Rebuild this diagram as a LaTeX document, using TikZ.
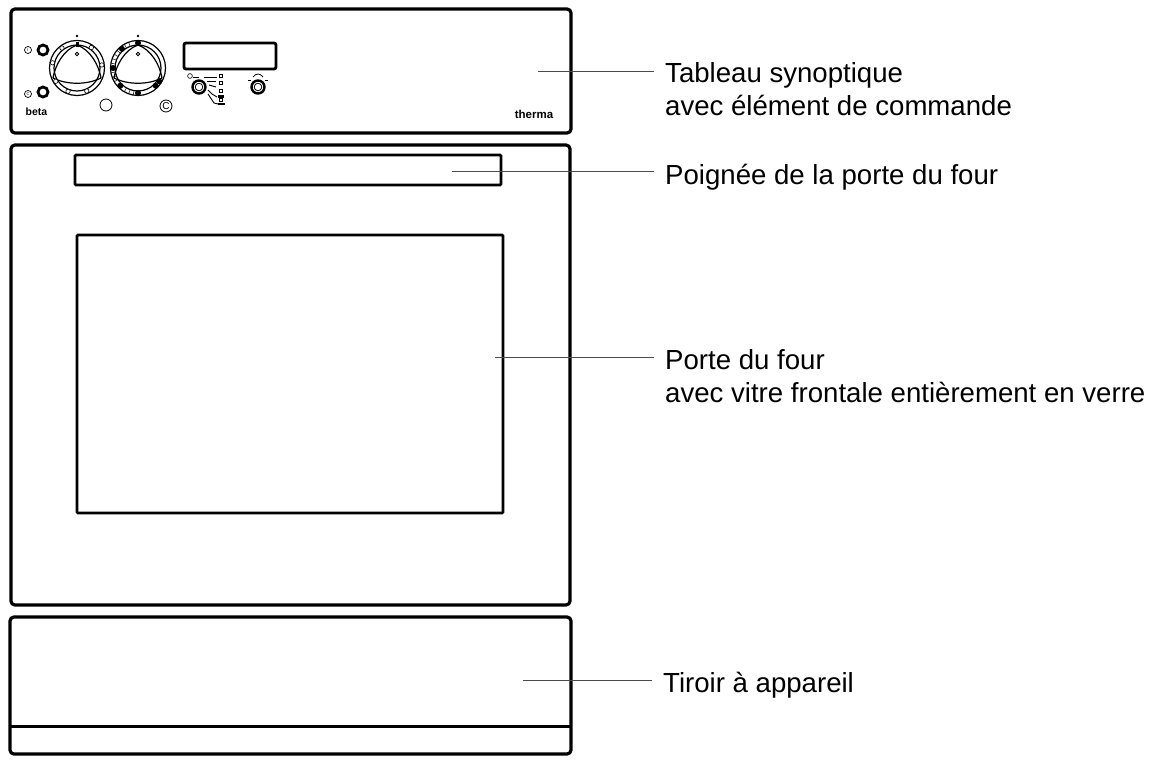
\documentclass[tikz,border=0pt]{standalone}
\usepackage{fontspec}
\setmainfont{Liberation Sans}
\usepackage{tikz}
\tikzset{
  frameline/.style={line width=3.2pt,rounded corners=4pt},
  knobline/.style={line width=1.2pt},
  leaderline/.style={line width=0.8pt,black!70},
  labeltext/.style={font=\fontsize{27.6}{33}\selectfont,align=left,inner xsep=11pt,inner ysep=0pt,anchor=base west},
  smalltext/.style={font=\fontsize{5}{5}\selectfont,inner sep=0pt},
}
\begin{document}
\begin{tikzpicture}[x=1pt,y=-1pt]
\useasboundingbox (0,0) rectangle (1159,762);
% frames
\draw[frameline] (11,9) rectangle (571,133);
\draw[frameline] (11,145) rectangle (570,605);
\draw[frameline] (10,617) rectangle (571,754);
\draw[line width=3pt] (10,726)--(571,726);
\draw[line width=2.8pt,rounded corners=1pt] (75,155) rectangle (501,185);
\draw[line width=2.8pt,rounded corners=1pt] (77,235) rectangle (503,513);
\draw[line width=2.8pt,rounded corners=2pt] (184,43) rectangle (276,69);
% left buttons
\draw[line width=2.8pt] (43,50) circle (5);
\draw[line width=2.8pt] (43,92) circle (5);
\draw[line width=0.7pt] (28,50) circle (3.5);
\draw[line width=0.7pt] (28,94) circle (3.5);
\node[smalltext,font=\fontsize{4}{4}\selectfont] (symbolone) at (28,50) {I};
\node[smalltext,font=\fontsize{4}{4}\selectfont] (symboltwo) at (28,94) {C};
\node[inner sep=0pt,font=\fontsize{10.5}{10.5}\selectfont\bfseries] (beta) at (36.5,112) {beta};
% knobs
\foreach \cx in {77,138} {
  \draw[knobline] (\cx,68) circle (27.5);
  \draw[knobline] (\cx,68) circle (23);
  \draw[knobline] (\cx,45) .. controls (\cx+14,50) and (\cx+22,66) .. (\cx+24,78)
    .. controls (\cx+10,85) and (\cx-10,85) .. (\cx-24,78)
    .. controls (\cx-22,66) and (\cx-14,50) .. (\cx,45);
  \draw[line width=0.8pt] (\cx,54) circle (1.8);
  \fill (\cx,36) circle (1.3);
}
\foreach \a in {-127,192,148,111,67,-55,-7}
  \draw[line width=0.6pt,fill=white] ({77+25*cos(\a)},{68+25*sin(\a)}) circle (2.2);
\fill (75.5,42) rectangle (78.5,47);
\foreach \a in {100,110,...,250}
  \draw[line width=0.5pt] ({138+23*cos(\a)},{68+23*sin(\a)})--({138+27*cos(\a)},{68+27*sin(\a)});
\foreach \a in {-90,-130,180,135,90,45,32}
  \fill ({138+25*cos(\a)},{68+25*sin(\a)}) circle (3);
% lower circles
\draw[line width=0.8pt] (106,105) circle (6);
\draw[line width=0.8pt] (166,106) circle (6);
\node[smalltext,font=\fontsize{10}{10}\selectfont] (degree) at (166,106) {C};
% selector knobs
\foreach \cx in {199,258} {
  \draw[line width=2.4pt] (\cx,87) circle (6.5);
  \draw[line width=0.8pt] (\cx,87) circle (3.8);
}
\draw[line width=0.8pt] (253,77) .. controls (256,73) and (260,73) .. (263,77);
\draw[line width=0.6pt] (190,76) circle (2.4);
\draw[line width=0.7pt] (193,77)--(199,77);
\draw[line width=0.9pt] (204,77)--(217,77);
\draw[line width=0.9pt] (207,81)--(216,81);
\draw[line width=0.9pt] (209,85)--(216,87);
\draw[line width=0.9pt] (208,90)--(212,94)--(217,97);
\draw[line width=0.9pt] (208,94)--(214,103)--(218,104);
\foreach \yy in {74,81,89} \draw[line width=0.5pt] (219.5,\yy) rectangle (222.5,\yy+3.5);
\fill (218,95.5) rectangle (224,98);
\draw[line width=0.5pt] (219.5,98) rectangle (222.5,101);
\fill (218,103) rectangle (225,105.5);
\draw[line width=0.7pt] (248,80)--(251,80);
\draw[line width=0.7pt] (265,80)--(268,80);
\node[smalltext,font=\fontsize{11.5}{11.5}\selectfont\bfseries] (therma) at (534,114) {therma};
% labels
\node[labeltext] (tableaulabel) at (654,116) {Tableau synoptique\\avec élément de commande};
\node[labeltext] (poigneelabel) at (654,185) {Poignée de la porte du four};
\node[labeltext] (portelabel) at (654,402) {Porte du four\\avec vitre frontale entièrement en verre};
\node[labeltext] (tiroirlabel) at (652,692) {Tiroir à appareil};
% leader lines
\coordinate (tableaustart) at (538,71);
\coordinate (poigneestart) at (452,171);
\coordinate (portestart) at (495,357);
\coordinate (tiroirstart) at (523,680);
\draw[leaderline] (tableaustart)--(tableaulabel.west |- tableaustart);
\draw[leaderline] (poigneestart)--(poigneelabel.west |- poigneestart);
\draw[leaderline] (portestart)--(portelabel.west |- portestart);
\draw[leaderline] (tiroirstart)--(tiroirlabel.west |- tiroirstart);
\end{tikzpicture}
\end{document}
